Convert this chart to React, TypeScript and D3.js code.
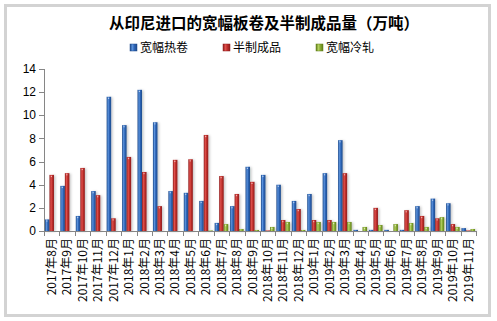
import React from "react";
import * as d3 from "d3";

const categories = [
  "2017年8月", "2017年9月", "2017年10月", "2017年11月", "2017年12月",
  "2018年1月", "2018年2月", "2018年3月", "2018年4月", "2018年5月", "2018年6月",
  "2018年7月", "2018年8月", "2018年9月", "2018年10月", "2018年11月", "2018年12月",
  "2019年1月", "2019年2月", "2019年3月", "2019年4月", "2019年5月", "2019年6月",
  "2019年7月", "2019年8月", "2019年9月", "2019年10月", "2019年11月",
];
const hotCoil = [1.0, 3.9, 1.3, 3.45, 11.6, 9.15, 12.2, 9.4, 3.45, 3.3, 2.6, 0.7, 2.15, 5.55, 4.85, 4.0, 2.6, 3.2, 5.0, 7.85, 0.1, 0.1, 0.1, 0.1, 2.15, 2.8, 2.4, 0.25];
const semiFinished = [4.85, 5.0, 5.45, 3.1, 1.1, 6.4, 5.1, 2.15, 6.15, 6.2, 8.3, 4.75, 3.2, 4.25, 0.05, 0.95, 1.9, 0.95, 0.95, 5.0, 0, 2.0, 0, 1.8, 1.3, 1.1, 0.6, 0.05];
const coldRolled = [0, 0, 0, 0, 0, 0, 0, 0, 0, 0, 0.05, 0.6, 0.17, 0.09, 0.35, 0.78, 0.09, 0.78, 0.78, 0.78, 0.35, 0.52, 0.6, 0.69, 0.35, 1.2, 0.35, 0.17];
const seriesNames = ["宽幅热卷", "半制成品", "宽幅冷轧"];
const yTicks = [0, 2, 4, 6, 8, 10, 12, 14];

const palettes = [
  { dark: "#1d4a8a", light: "#5a92dc", mid: "#2f66b8" },
  { dark: "#8e1c1c", light: "#e0504c", mid: "#c0302c" },
  { dark: "#5f7d18", light: "#b4d060", mid: "#8aae36" },
];

const CJK = "'Noto Sans CJK SC', 'Noto Sans', sans-serif";
const NUM = "'Liberation Sans', Arial, sans-serif";

export default function App() {
  const W = 497, H = 321;
  const left = 44, right = 476, top = 69, bottom = 231;
  const x = d3.scaleBand<string>().domain(categories).range([left, right]).paddingInner(0.12).paddingOuter(0.06);
  const sub = d3.scaleBand<number>().domain([0, 1, 2]).range([0, x.bandwidth()]).padding(0);
  const y = d3.scaleLinear().domain([0, 14]).range([bottom, top]);
  const data = [hotCoil, semiFinished, coldRolled];
  const step = (right - left) / categories.length;

  return (
    <svg width={W} height={H} style={{ position: "absolute", left: 0, top: 0, background: "#fff" }}>
      <defs>
        {palettes.map((p, i) => (
          <linearGradient key={i} id={`g${i}`} x1="0" x2="1" y1="0" y2="0">
            <stop offset="0%" stopColor={p.dark} />
            <stop offset="35%" stopColor={p.light} />
            <stop offset="60%" stopColor={p.mid} />
            <stop offset="100%" stopColor={p.dark} />
          </linearGradient>
        ))}
        <filter id="sh" x="-50%" y="-10%" width="250%" height="130%">
          <feDropShadow dx="1.5" dy="0.5" stdDeviation="1.2" floodColor="#000" floodOpacity="0.22" />
        </filter>
      </defs>
      <rect x={5.5} y={5.5} width={484} height={310} fill="#fff" stroke="#d3d3d3" strokeWidth={3} />
      <text x={264} y={29} textAnchor="middle" fontFamily={CJK} fontSize={15.5} fontWeight="bold" fill="#000">
        从印尼进口的宽幅板卷及半制成品量（万吨）
      </text>
      {seriesNames.map((n, i) => {
        const lx = 130 + i * 93;
        return (
          <g key={n}>
            <rect x={lx} y={44} width={7} height={7} fill={`url(#g${i})`} stroke={palettes[i].dark} strokeWidth={0.5} />
            <text x={lx + 10} y={52} fontFamily={CJK} fontSize={12} fill="#000">{n}</text>
          </g>
        );
      })}
      {/* y axis */}
      <line x1={left + 0.5} x2={left + 0.5} y1={top} y2={bottom} stroke="#868686" />
      {yTicks.map((t) => (
        <g key={t}>
          <line x1={left - 5} x2={left} y1={Math.round(y(t)) + 0.5} y2={Math.round(y(t)) + 0.5} stroke="#868686" />
          <text x={left - 8} y={y(t)} dy="0.35em" textAnchor="end" fontFamily={NUM} fontSize={12} fill="#000">{t}</text>
        </g>
      ))}
      {/* bars */}
      {data.map((vals, si) => (
        <g key={si} filter="url(#sh)">
          {vals.map((v, ci) => {
            if (v <= 0) return null;
            const bx = (x(categories[ci]) as number) + (sub(si) as number);
            const bw = sub.bandwidth();
            const by = y(v);
            const bh = bottom - by;
            return (
              <g key={ci}>
                <rect x={bx} y={by} width={bw} height={bh} fill={`url(#g${si})`} />
                {bh > 3 && <rect x={bx + bw * 0.3} y={by + 1} width={1.2} height={1.2} fill="#fff" opacity={0.6} />}
              </g>
            );
          })}
        </g>
      ))}
      {/* x axis */}
      <line x1={left} x2={right} y1={bottom + 0.5} y2={bottom + 0.5} stroke="#868686" />
      {d3.range(categories.length + 1).map((i) => (
        <line key={i} x1={Math.round(left + i * step) + 0.5} x2={Math.round(left + i * step) + 0.5} y1={bottom} y2={bottom + 5} stroke="#868686" />
      ))}
      {categories.map((c, i) => {
        const cx = left + (i + 0.5) * step;
        return (
          <text key={c} transform={`translate(${cx},238) rotate(-90)`} dy="0.36em" textAnchor="end" fontFamily={CJK} fontSize={12} fill="#000">
            {c}
          </text>
        );
      })}
    </svg>
  );
}
